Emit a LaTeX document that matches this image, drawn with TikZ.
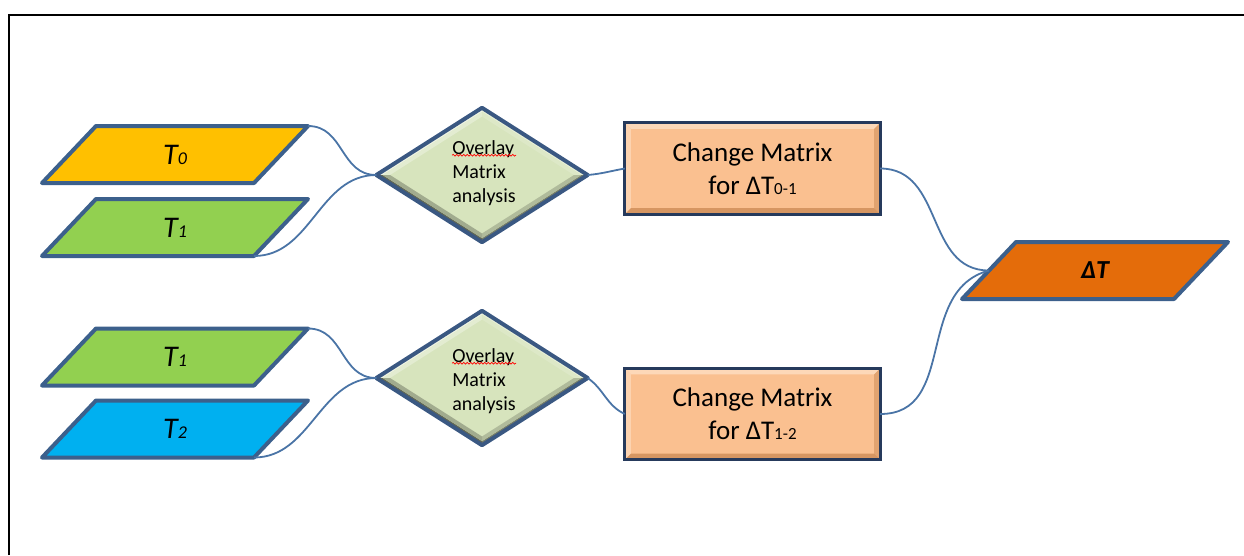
\documentclass[tikz,border=0pt]{standalone}
\usepackage{fontspec}
\setmainfont{Carlito}
\usetikzlibrary{calc,shapes.geometric,decorations.pathmorphing}

\definecolor{edgeblue}{RGB}{60,96,140}
\definecolor{wire}{RGB}{74,116,166}
\definecolor{gold}{RGB}{255,192,0}
\definecolor{leaf}{RGB}{146,208,80}
\definecolor{sky}{RGB}{0,176,240}
\definecolor{rust}{RGB}{228,108,10}
\definecolor{sage}{RGB}{215,228,189}
\definecolor{gateedge}{RGB}{58,88,130}
\definecolor{peach}{RGB}{250,192,144}
\definecolor{peachhi}{RGB}{253,216,184}
\definecolor{peachlo}{RGB}{214,150,98}
\definecolor{boxedge}{RGB}{38,58,92}

% slanted data layer around a named text node: corners are kept as
% coordinates <name>-bl, <name>-tl, <name>-tr, <name>-br and <name>-ls (left side)
\newcommand\layershape[2]{%
  \coordinate (#1-bl) at ($(#1.center)+(-133,28.5)$);
  \coordinate (#1-tl) at ($(#1.center)+(-79,-28.5)$);
  \coordinate (#1-tr) at ($(#1.center)+(133,-28.5)$);
  \coordinate (#1-br) at ($(#1.center)+(79,28.5)$);
  \coordinate (#1-ls) at ($(#1-bl)!0.5!(#1-tl)$);
  \begin{pgfonlayer}{background}
    \draw[draw=edgeblue, line width=4pt, line join=round, fill=#2]
      (#1-bl) -- (#1-tl) -- (#1-tr) -- (#1-br) -- cycle;
  \end{pgfonlayer}
}
% one strip of a diamond's bevel: node, two corners, outer and inner ratio, colour
\newcommand\gatefacet[6]{%
  \fill[#6] ($(#1.center)!#4!(#1.#2)$) -- ($(#1.center)!#4!(#1.#3)$)
    -- ($(#1.center)!#5!(#1.#3)$) -- ($(#1.center)!#5!(#1.#2)$) -- cycle;
}
% bevelled ring and outline of a diamond node
\newcommand\bevelgate[1]{%
  \gatefacet{#1}{west}{north}{1}{0.94}{sage!40!white}
  \gatefacet{#1}{west}{north}{0.94}{0.87}{sage!70!white}
  \gatefacet{#1}{north}{east}{1}{0.94}{sage!60!white}
  \gatefacet{#1}{north}{east}{0.94}{0.87}{sage!85!white}
  \gatefacet{#1}{east}{south}{1}{0.94}{sage!55!black}
  \gatefacet{#1}{east}{south}{0.94}{0.87}{sage!82!black}
  \gatefacet{#1}{south}{west}{1}{0.94}{sage!45!black}
  \gatefacet{#1}{south}{west}{0.94}{0.87}{sage!75!black}
  \draw[draw=gateedge, line width=4pt, line join=round] (#1.north) -- (#1.east) -- (#1.south) -- (#1.west) -- cycle;
}
% bevelled ring and outline of a rectangular node
\newcommand\bevelrect[1]{%
  \fill[peachhi] (#1.north west) -- (#1.north east) -- ($(#1.north east)+(-6,6)$) -- ($(#1.north west)+(6,6)$) -- cycle;
  \fill[peachhi!80!peach] (#1.north west) -- (#1.south west) -- ($(#1.south west)+(6,-6)$) -- ($(#1.north west)+(6,6)$) -- cycle;
  \fill[peachlo!70!peach] (#1.north east) -- (#1.south east) -- ($(#1.south east)+(-6,-6)$) -- ($(#1.north east)+(-6,6)$) -- cycle;
  \fill[peachlo] (#1.south west) -- (#1.south east) -- ($(#1.south east)+(-6,-6)$) -- ($(#1.south west)+(6,-6)$) -- cycle;
  \draw[draw=boxedge, line width=3pt] (#1.north west) rectangle (#1.south east);
}
% red spelling mark under the first word of a gate label
\newcommand\spellmark[1]{%
  \draw[red, line width=0.7pt, decorate, decoration={snake, amplitude=0.9pt, segment length=3.5pt}]
    ($(#1.north west)+(0,15)$) -- ($(#1.north west)+(64,15)$);
}

\pgfdeclarelayer{background}
\pgfsetlayers{background,main}

\begin{document}
\begin{tikzpicture}[x=1pt, y=-1pt,
  layertext/.style={inner sep=0pt, font=\fontsize{30}{30}\selectfont\itshape},
  gate/.style={diamond, minimum width=211pt, minimum height=134pt, inner sep=0pt, fill=sage},
  gatetext/.style={inner sep=0pt, align=left, font=\fontsize{20}{24}\selectfont},
  matrixbox/.style={rectangle, minimum width=255pt, minimum height=91pt, inner sep=0pt,
    fill=peach, align=center, font=\fontsize{27}{33}\selectfont},
  wireline/.style={draw=wire, line width=1.8pt}
]
\useasboundingbox (0,0) rectangle (1244,555);

% page frame
\draw[line width=1.6pt] (9,555) -- (9,15) -- (1244,15);

% input layers
\node[layertext] (t0) at (175,154.5) {T{\fontsize{18}{18}\selectfont 0}};
\node[layertext] (t1a) at (175,227.5) {T{\fontsize{18}{18}\selectfont 1}};
\node[layertext] (t1b) at (175,357) {T{\fontsize{18}{18}\selectfont 1}};
\node[layertext] (t2) at (175,429) {T{\fontsize{18}{18}\selectfont 2}};
\layershape{t0}{gold}
\layershape{t1a}{leaf}
\layershape{t1b}{leaf}
\layershape{t2}{sky}

% overlay steps
\node[gate] (g1) at (482,175) {};
\node[gate] (g2) at (482,378) {};
\bevelgate{g1}
\bevelgate{g2}
\node[gatetext] (g1text) at (484,173) {Overlay\\Matrix\\analysis};
\node[gatetext] (g2text) at (484,381) {Overlay\\Matrix\\analysis};
\spellmark{g1text}
\spellmark{g2text}

% change matrices
\node[matrixbox] (m1) at (752.5,168.5) {Change Matrix\\for ΔT{\fontsize{17}{17}\selectfont 0-1}};
\node[matrixbox] (m2) at (752.5,414) {Change Matrix\\for ΔT{\fontsize{17}{17}\selectfont 1-2}};
\bevelrect{m1}
\bevelrect{m2}

% result
\node[layertext, font=\fontsize{26}{26}\selectfont\bfseries\itshape] (dt) at (1095,270.5) {ΔT};
\layershape{dt}{rust}

% connectors
\draw[wireline] (t0-tr) to[out=0, in=180, looseness=1.1] (g1.west);
\draw[wireline] (t1a-br) to[out=0, in=180] (g1.west);
\draw[wireline] (t1b-tr) to[out=0, in=180, looseness=1.1] (g2.west);
\draw[wireline] (t2-br) to[out=0, in=180] (g2.west);
\draw[wireline] (g1.east) to[out=5, in=190] (m1.west);
\draw[wireline] (g2.east) to[out=-35, in=155] (m2.west);
\draw[wireline] (m1.east) to[out=0, in=180, looseness=1.1] (dt-ls);
\draw[wireline] (m2.east) to[out=0, in=195, looseness=1.1] (dt-ls);
\end{tikzpicture}
\end{document}
